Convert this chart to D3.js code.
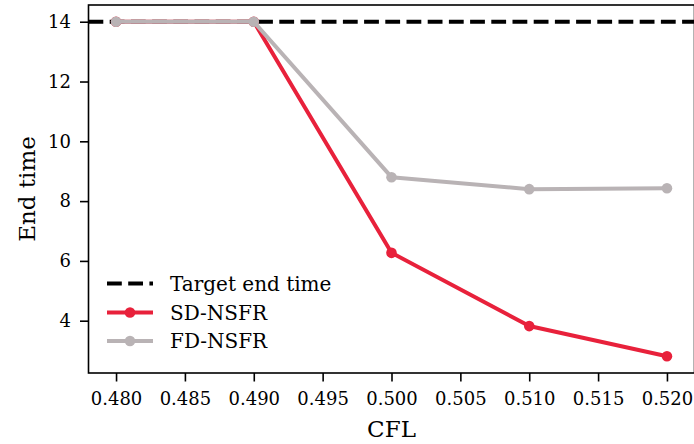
<!DOCTYPE html>
<html>
<head>
<meta charset="utf-8">
<script src="https://cdn.jsdelivr.net/npm/d3@7"></script>
<style>
  html, body { margin: 0; padding: 0; background: #fff; }
  svg { display: block; }
  text { font-family: "DejaVu Serif", "Liberation Serif", serif; fill: #000; }
</style>
</head>
<body>
<svg id="chart" width="694" height="444"></svg>
<script>
// CFL values tested
const cfl = [0.48, 0.49, 0.50, 0.51, 0.52];
// Simulated end time reached by each scheme
const sdNsfr = [14, 14, 6.27, 3.82, 2.81];
const fdNsfr = [14, 14, 8.80, 8.40, 8.43];
const targetEndTime = 14;
const xTicks = [0.480, 0.485, 0.490, 0.495, 0.500, 0.505, 0.510, 0.515, 0.520];
const yTicks = [4, 6, 8, 10, 12, 14];
const legendLabels = ["Target end time", "SD-NSFR", "FD-NSFR"];

const colSD = "#e8213b";
const colFD = "#b9b3b5";

const svg = d3.select("#chart");
const margin = { left: 88.5, top: 5, right: 694.5, bottom: 373 };

// padded limits (5% of data span on each side)
const xMin = d3.min(cfl), xMax = d3.max(cfl);
const xPad = (xMax - xMin) * 0.05;
const allY = sdNsfr.concat(fdNsfr, [targetEndTime]);
const yMin = d3.min(allY), yMax = d3.max(allY);
const yPad = (yMax - yMin) * 0.05;

const x = d3.scaleLinear().domain([xMin - xPad, xMax + xPad]).range([margin.left, margin.right]);
const y = d3.scaleLinear().domain([yMin - yPad, yMax + yPad]).range([margin.bottom, margin.top]);

// axes
const xAxis = d3.axisBottom(x).tickValues(xTicks).tickFormat(d3.format(".3f")).tickSize(8.5).tickPadding(11);
const yAxis = d3.axisLeft(y).tickValues(yTicks).tickFormat(d3.format("d")).tickSize(8.5).tickPadding(9);

const gx = svg.append("g").attr("transform", `translate(0,${margin.bottom})`).call(xAxis);
const gy = svg.append("g").attr("transform", `translate(${margin.left},0)`).call(yAxis);
[gx, gy].forEach(g => {
  g.select(".domain").remove();
  g.selectAll(".tick line").attr("stroke", "#000").attr("stroke-width", 1.6);
  g.selectAll(".tick text").attr("font-size", 18).attr("font-family", "DejaVu Serif");
});
gx.selectAll(".tick text").attr("dy", "0.72em");

// data lines
const line = d3.line().x(d => x(d[0])).y(d => y(d[1]));
const plot = svg.append("g");

plot.append("line")
  .attr("x1", margin.left).attr("x2", margin.right)
  .attr("y1", y(targetEndTime)).attr("y2", y(targetEndTime))
  .attr("stroke", "#000").attr("stroke-width", 4)
  .attr("stroke-dasharray", "14.8,6.4");

function drawSeries(vals, color) {
  const pts = cfl.map((c, i) => [c, vals[i]]);
  plot.append("path").datum(pts).attr("d", line)
    .attr("fill", "none").attr("stroke", color).attr("stroke-width", 4)
    .attr("stroke-linejoin", "round");
  plot.selectAll(null).data(pts).enter().append("circle")
    .attr("cx", d => x(d[0])).attr("cy", d => y(d[1])).attr("r", 5.3)
    .attr("fill", color);
}
drawSeries(sdNsfr, colSD);
drawSeries(fdNsfr, colFD);

// frame
svg.append("rect")
  .attr("x", margin.left).attr("y", margin.top)
  .attr("width", margin.right - margin.left).attr("height", margin.bottom - margin.top)
  .attr("fill", "none").attr("stroke", "#000").attr("stroke-width", 1.6);

// axis titles
svg.append("text").attr("x", (margin.left + margin.right) / 2).attr("y", 437)
  .attr("text-anchor", "middle").attr("font-size", 23).text("CFL");
svg.append("text")
  .attr("transform", `translate(35,${(margin.top + margin.bottom) / 2}) rotate(-90)`)
  .attr("text-anchor", "middle").attr("font-size", 23).text("End time");

// legend
const legend = svg.append("g");
const rowsY = [283.5, 312.5, 341];
const styles = [
  { color: "#000", dash: "14.8,6.4", marker: false },
  { color: colSD, dash: null, marker: true },
  { color: colFD, dash: null, marker: true }
];
legendLabels.forEach((lab, i) => {
  const s = styles[i];
  legend.append("line").attr("x1", 107).attr("x2", 153)
    .attr("y1", rowsY[i]).attr("y2", rowsY[i])
    .attr("stroke", s.color).attr("stroke-width", 4)
    .attr("stroke-dasharray", s.dash);
  if (s.marker) {
    legend.append("circle").attr("cx", 130).attr("cy", rowsY[i]).attr("r", 5.3).attr("fill", s.color);
  }
  legend.append("text").attr("x", 170).attr("y", rowsY[i]).attr("dy", "0.36em")
    .attr("font-size", 20).text(lab);
});
</script>
</body>
</html>
